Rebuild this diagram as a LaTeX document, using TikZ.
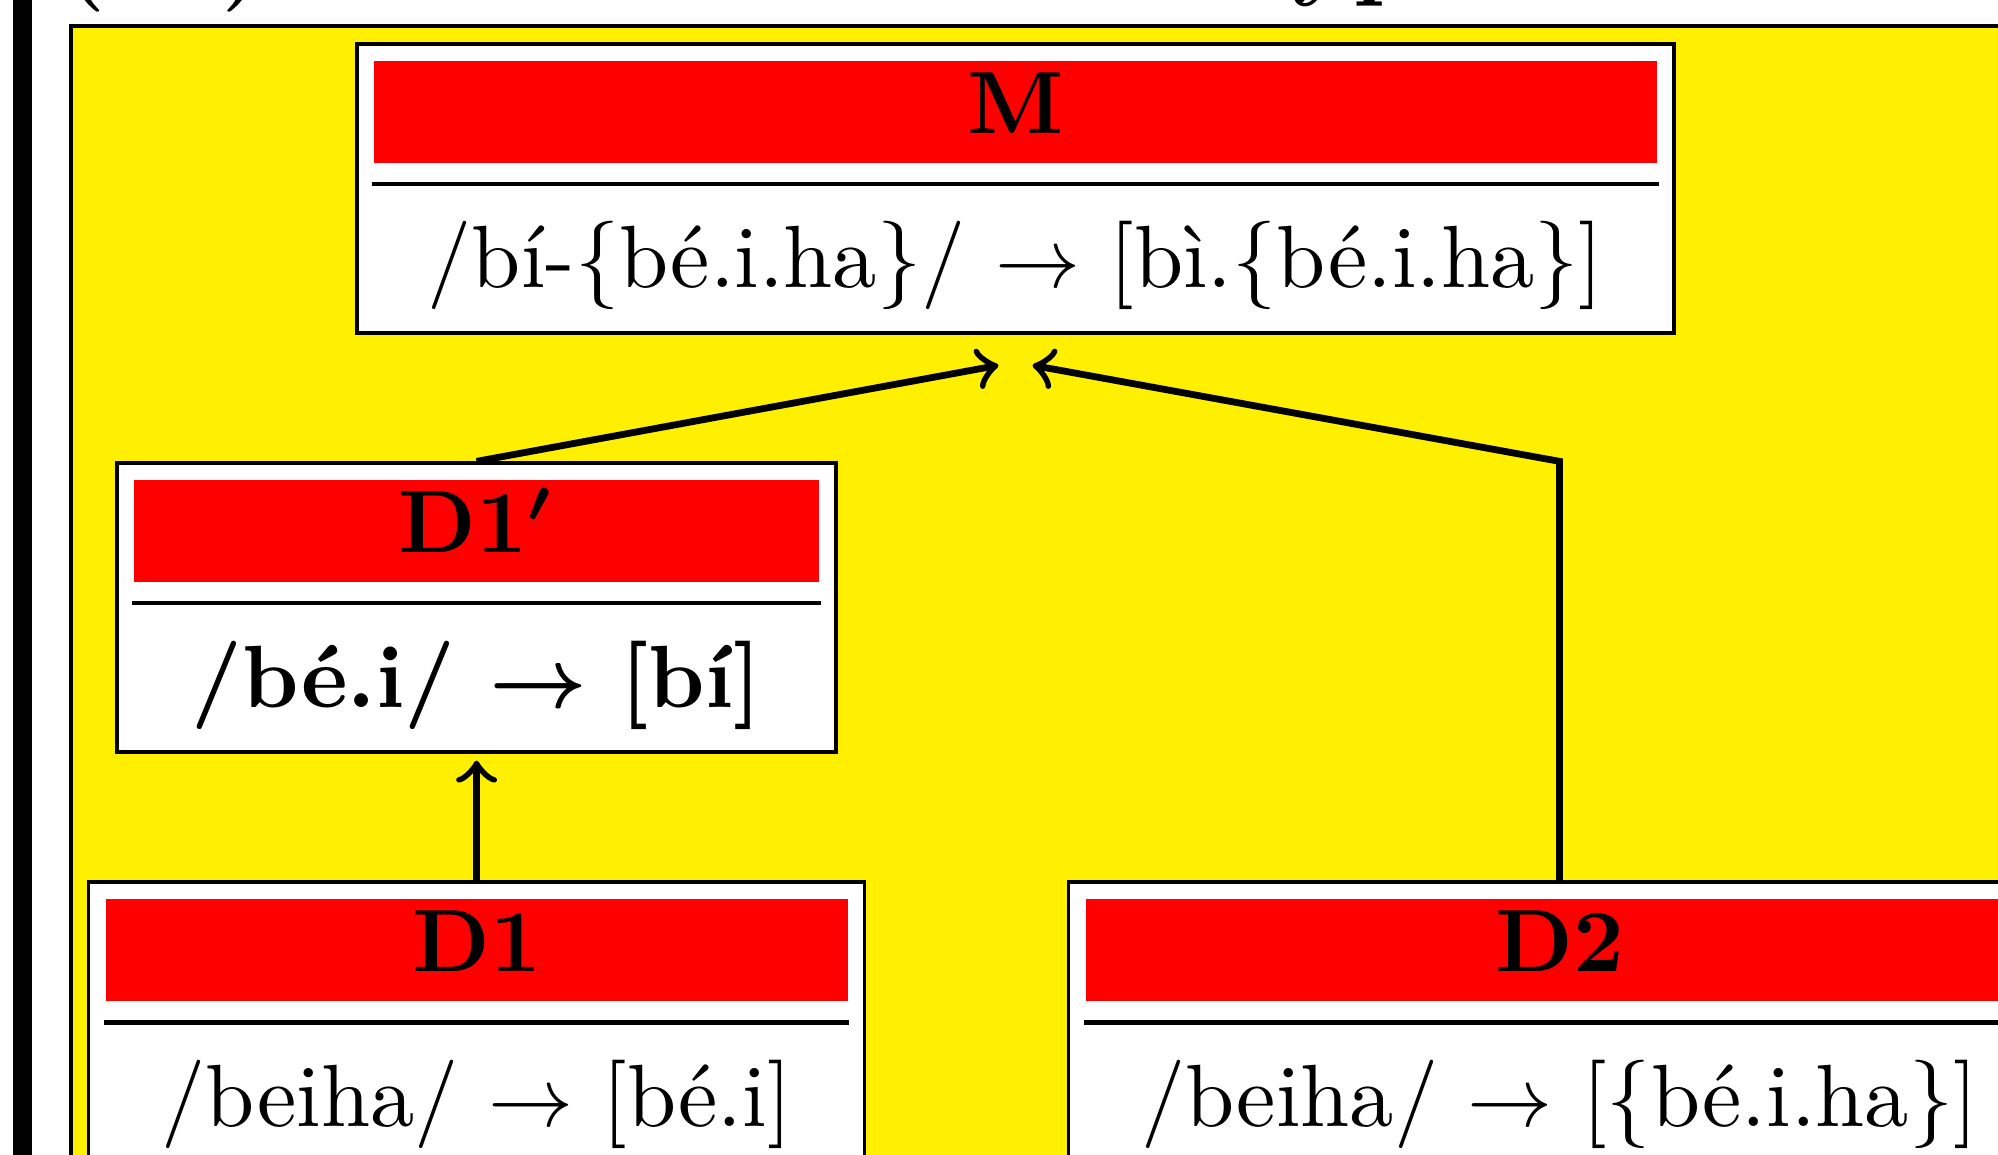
\documentclass[tikz,border=0pt]{standalone}
\usepackage{amsmath}
\usetikzlibrary{positioning}
\definecolor{bgyellow}{RGB}{255,239,0}

\begin{document}
\fontsize{10.4pt}{12.5pt}\selectfont
\begin{tikzpicture}[
  frm/.style={draw,fill=white,line width=0.4pt,minimum height=34pt,inner sep=0pt},
  hd/.style={fill=red,font=\bfseries\boldmath,text height=8.5pt,text depth=3.5pt,inner sep=0pt},
  txt/.style={anchor=base,inner sep=0pt},
  rl/.style={line width=0.5pt},
  arr/.style={->,line width=0.8pt}]
\useasboundingbox (-119.47pt,-113.7pt) rectangle (115.59pt,22.18pt);
\fill (-117.9pt,30pt) rectangle (-115.7pt,-130pt);
\draw[fill=bgyellow] (-111.1pt,19.1pt) rectangle (130pt,-130pt);
\node[anchor=base west,font=\large\bfseries,inner sep=0pt] (num) at (-112.4pt,23.8pt) {(17)};
\node[anchor=base west,font=\large\bfseries,inner sep=0pt] (ttl) at (23.4pt,23.8pt) {Type};
% the four boxes
\node[frm,minimum width=154.9pt] (m) at (0,0) {};
\node[frm,minimum width=84.6pt,below=14.9pt of m,xshift=-63.4pt] (d1p) {};
\node[frm,minimum width=91.3pt,below=14.9pt of d1p] (d1) {};
\node[frm,minimum width=115.5pt,right=23.6pt of d1] (d2) {};
\node[hd,minimum width=150.9pt,below=2pt of m.north] (mh) {M};
\node[hd,minimum width=80.6pt,below=2pt of d1p.north] (d1ph) {D1$'$};
\node[hd,minimum width=87.3pt,below=2pt of d1.north] (d1h) {D1};
\node[hd,minimum width=111.5pt,below=2pt of d2.north] (d2h) {D2};
\draw[rl] ([yshift=-2.3pt]mh.south west) -- ([yshift=-2.3pt]mh.south east);
\draw[rl] ([yshift=-2.3pt]d1ph.south west) -- ([yshift=-2.3pt]d1ph.south east);
\draw[rl] ([yshift=-2.3pt]d1h.south west) -- ([yshift=-2.3pt]d1h.south east);
\draw[rl] ([yshift=-2.3pt]d2h.south west) -- ([yshift=-2.3pt]d2h.south east);
\node[txt] (mt) at ([yshift=5.5pt]m.south) {/bí-\{bé.i.ha\}/ $\to$ [bì.\{bé.i.ha\}]};
\node[txt,font=\bfseries\boldmath] (d1pt) at ([yshift=5.5pt]d1p.south) {/bé.i/ $\to$ [bí]};
\node[txt] (d1t) at ([yshift=5.5pt]d1.south) {/beiha/ $\to$ [bé.i]};
\node[txt] (d2t) at ([yshift=5.5pt]d2.south) {/beiha/ $\to$ [\{bé.i.ha\}]};
% arrows
\coordinate (mL) at ([xshift=-2pt,yshift=-3.6pt]m.south);
\coordinate (mR) at ([xshift=2pt,yshift=-3.6pt]m.south);
\draw[arr] (d1p.north) -- (mL);
\draw[arr] (d2.north) -- (d2.north |- d1p.north) -- (mR);
\draw[arr,shorten >=0.8pt] (d1.north) -- (d1p.south);
\end{tikzpicture}
\end{document}
